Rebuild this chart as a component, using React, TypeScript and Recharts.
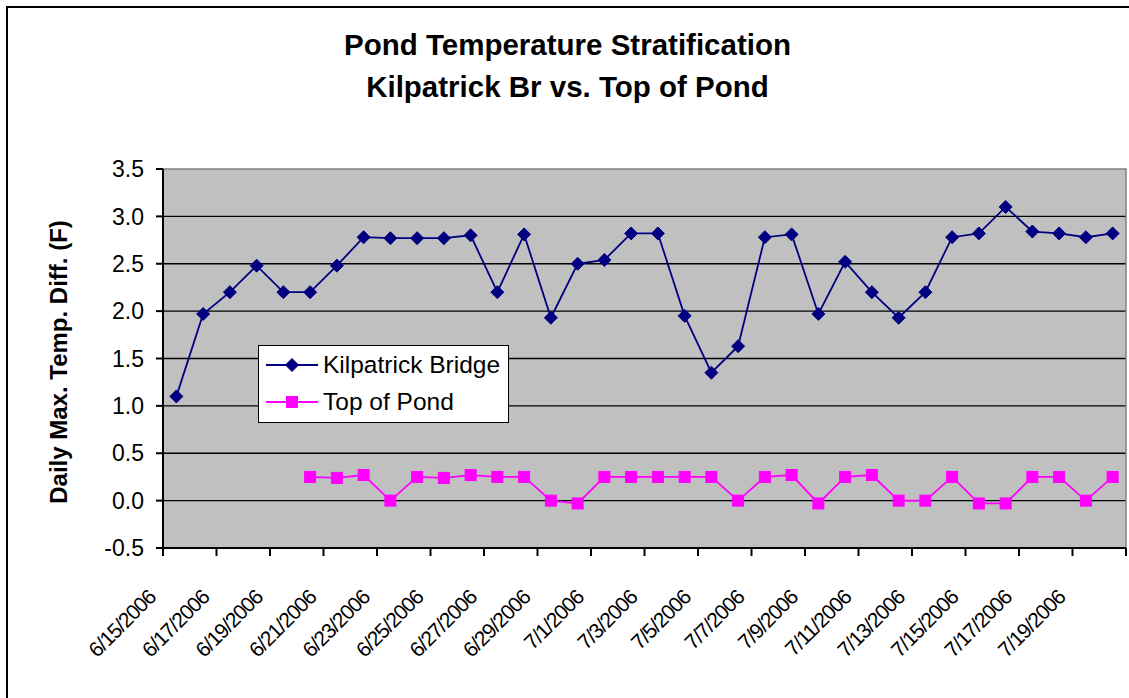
import React from "react";
import {
  LineChart,
  Line,
  XAxis,
  YAxis,
  CartesianGrid,
  Legend,
  ReferenceArea,
} from "recharts";

const dates = [
  "6/15/2006", "6/16/2006", "6/17/2006", "6/18/2006", "6/19/2006", "6/20/2006",
  "6/21/2006", "6/22/2006", "6/23/2006", "6/24/2006", "6/25/2006", "6/26/2006",
  "6/27/2006", "6/28/2006", "6/29/2006", "6/30/2006", "7/1/2006", "7/2/2006",
  "7/3/2006", "7/4/2006", "7/5/2006", "7/6/2006", "7/7/2006", "7/8/2006",
  "7/9/2006", "7/10/2006", "7/11/2006", "7/12/2006", "7/13/2006", "7/14/2006",
  "7/15/2006", "7/16/2006", "7/17/2006", "7/18/2006", "7/19/2006", "7/20/2006",
];

const kilpatrick = [
  1.1, 1.97, 2.2, 2.48, 2.2, 2.2, 2.48, 2.78, 2.77, 2.77, 2.77, 2.8,
  2.2, 2.81, 1.93, 2.5, 2.54, 2.82, 2.82, 1.95, 1.35, 1.63, 2.78, 2.81,
  1.97, 2.52, 2.2, 1.93, 2.2, 2.78, 2.82, 3.1, 2.84, 2.82, 2.78, 2.82,
];

const topOfPond: (number | null)[] = [
  null, null, null, null, null, 0.25, 0.24, 0.27, 0.0, 0.25, 0.24, 0.27,
  0.25, 0.25, 0.0, -0.03, 0.25, 0.25, 0.25, 0.25, 0.25, 0.0, 0.25, 0.27,
  -0.03, 0.25, 0.27, 0.0, 0.0, 0.25, -0.03, -0.03, 0.25, 0.25, 0.0, 0.25,
];

const yTicks = [-0.5, 0, 0.5, 1, 1.5, 2, 2.5, 3, 3.5];
const gridValues = [0, 0.5, 1, 1.5, 2, 2.5, 3];

const data = dates.map((d, i) => ({
  date: d,
  kilpatrick: kilpatrick[i],
  pond: topOfPond[i],
}));

const FONT = "Arial, 'Liberation Sans', Helvetica, sans-serif";
const WIDTH = 1129;
const HEIGHT = 698;
const Y_AXIS_W = 163;
const RIGHT = 3;
const TOP = 169;
const X_AXIS_H = 150;
const BAND = (WIDTH - Y_AXIS_W - RIGHT) / dates.length;
const TICK_LEN = 8;

const NAVY = "#000080";
const MAGENTA = "#FF00FF";

const Diamond = ({ cx, cy, r = 6.5, color }: any) => (
  <polygon
    points={`${cx},${cy - r} ${cx + r},${cy} ${cx},${cy + r} ${cx - r},${cy}`}
    fill={color}
    stroke={color}
    strokeWidth={1}
  />
);

const Square = ({ cx, cy, s = 11, color }: any) => (
  <rect x={cx - s / 2} y={cy - s / 2} width={s} height={s} fill={color} stroke={color} />
);

const DateTick = (props: any) => {
  const { x, y, payload, index, visibleTicksCount } = props;
  const axisY = y - TICK_LEN;
  const bx = x - BAND / 2;
  return (
    <g>
      <line x1={bx} y1={axisY} x2={bx} y2={axisY + TICK_LEN} stroke="#000" strokeWidth={2} />
      {index === visibleTicksCount - 1 && (
        <line
          x1={x + BAND * 1.5}
          y1={axisY}
          x2={x + BAND * 1.5}
          y2={axisY + TICK_LEN}
          stroke="#000"
          strokeWidth={2}
        />
      )}
      <text
        transform={`translate(${x - 19.4}, ${axisY + 50.7}) rotate(-45)`}
        textAnchor="end"
        fontFamily={FONT}
        fontSize={21}
        letterSpacing={-1}
        fill="#000"
      >
        {payload.value}
      </text>
    </g>
  );
};

const LegendBox = () => (
  <div
    style={{
      width: 251,
      height: 78,
      boxSizing: "border-box",
      border: "1.5px solid #000",
      background: "#fff",
      fontFamily: FONT,
      fontSize: 24.5,
      color: "#000",
      paddingTop: 1,
    }}
  >
    {[
      { name: "Kilpatrick Bridge", color: NAVY, kind: "diamond" },
      { name: "Top of Pond", color: MAGENTA, kind: "square" },
    ].map((item) => (
      <div
        key={item.name}
        style={{ display: "flex", alignItems: "center", height: 36.5, whiteSpace: "nowrap" }}
      >
        <svg width={60} height={20} style={{ marginLeft: 7, flex: "none" }}>
          <line x1={0} y1={10} x2={52} y2={10} stroke={item.color} strokeWidth={1.8} />
          {item.kind === "diamond" ? (
            <Diamond cx={26} cy={10} color={item.color} />
          ) : (
            <Square cx={26} cy={10} color={item.color} />
          )}
        </svg>
        <span style={{ marginLeft: -3 }}>{item.name}</span>
      </div>
    ))}
  </div>
);

export default function App() {
  return (
    <div
      style={{
        position: "absolute",
        left: 0,
        top: 0,
        width: WIDTH,
        height: HEIGHT,
        overflow: "hidden",
        background: "#fff",
      }}
    >
      <div
        style={{
          position: "absolute",
          left: 6,
          top: 6,
          width: 1300,
          height: 900,
          border: "2px solid #000",
        }}
      />
      <div
        style={{
          position: "absolute",
          left: 0,
          top: 24,
          width: 1135,
          textAlign: "center",
          fontFamily: FONT,
          fontWeight: "bold",
          fontSize: 29.5,
          lineHeight: "41.5px",
          color: "#000",
        }}
      >
        <div>Pond Temperature Stratification</div>
        <div>Kilpatrick Br vs. Top of Pond</div>
      </div>
      <div
        style={{
          position: "absolute",
          left: 58.7,
          top: 362,
          transform: "translate(-50%, -50%) rotate(-90deg)",
          whiteSpace: "nowrap",
          fontFamily: FONT,
          fontWeight: "bold",
          fontSize: 24,
          color: "#000",
        }}
      >
        Daily Max. Temp. Diff. (F)
      </div>
      <div style={{ position: "absolute", left: 0, top: 0 }}>
        <LineChart
          width={WIDTH}
          height={HEIGHT}
          data={data}
          margin={{ top: TOP, right: RIGHT, left: 0, bottom: 0 }}
        >
          <CartesianGrid
            fill="#C0C0C0"
            stroke="#000"
            strokeWidth={1.3}
            vertical={false}
            horizontalValues={gridValues}
          />
          <ReferenceArea
            y1={-0.5}
            y2={3.5}
            fill="none"
            stroke="#808080"
            strokeWidth={1.5}
            ifOverflow="visible"
          />
          <XAxis
            dataKey="date"
            scale="band"
            interval={1}
            height={X_AXIS_H}
            tickSize={TICK_LEN}
            tickMargin={0}
            tickLine={false}
            axisLine={{ stroke: "#000", strokeWidth: 2 }}
            tick={(p: any) => <DateTick {...p} />}
          />
          <YAxis
            width={Y_AXIS_W}
            domain={[-0.5, 3.5]}
            ticks={yTicks}
            interval={0}
            tickFormatter={(v: number) => v.toFixed(1)}
            tickSize={7}
            tickMargin={12}
            tickLine={{ stroke: "#000", strokeWidth: 2 }}
            axisLine={{ stroke: "#000", strokeWidth: 2 }}
            tick={{ fill: "#000", fontSize: 23, fontFamily: FONT }}
          />
          <Legend
            layout="vertical"
            align="center"
            verticalAlign="middle"
            content={() => <LegendBox />}
            wrapperStyle={{ left: 258, top: 345, width: 251, height: 78 }}
          />
          <Line
            dataKey="kilpatrick"
            name="Kilpatrick Bridge"
            stroke={NAVY}
            strokeWidth={1.8}
            isAnimationActive={false}
            dot={(p: any) =>
              p.cx == null || p.cy == null ? (
                <g key={`k-${p.index}`} />
              ) : (
                <Diamond key={`k-${p.index}`} cx={p.cx} cy={p.cy} color={NAVY} />
              )
            }
            activeDot={false}
          />
          <Line
            dataKey="pond"
            name="Top of Pond"
            stroke={MAGENTA}
            strokeWidth={1.8}
            isAnimationActive={false}
            dot={(p: any) =>
              p.cx == null || p.cy == null || p.value == null ? (
                <g key={`p-${p.index}`} />
              ) : (
                <Square key={`p-${p.index}`} cx={p.cx} cy={p.cy} color={MAGENTA} />
              )
            }
            activeDot={false}
          />
        </LineChart>
      </div>
    </div>
  );
}
